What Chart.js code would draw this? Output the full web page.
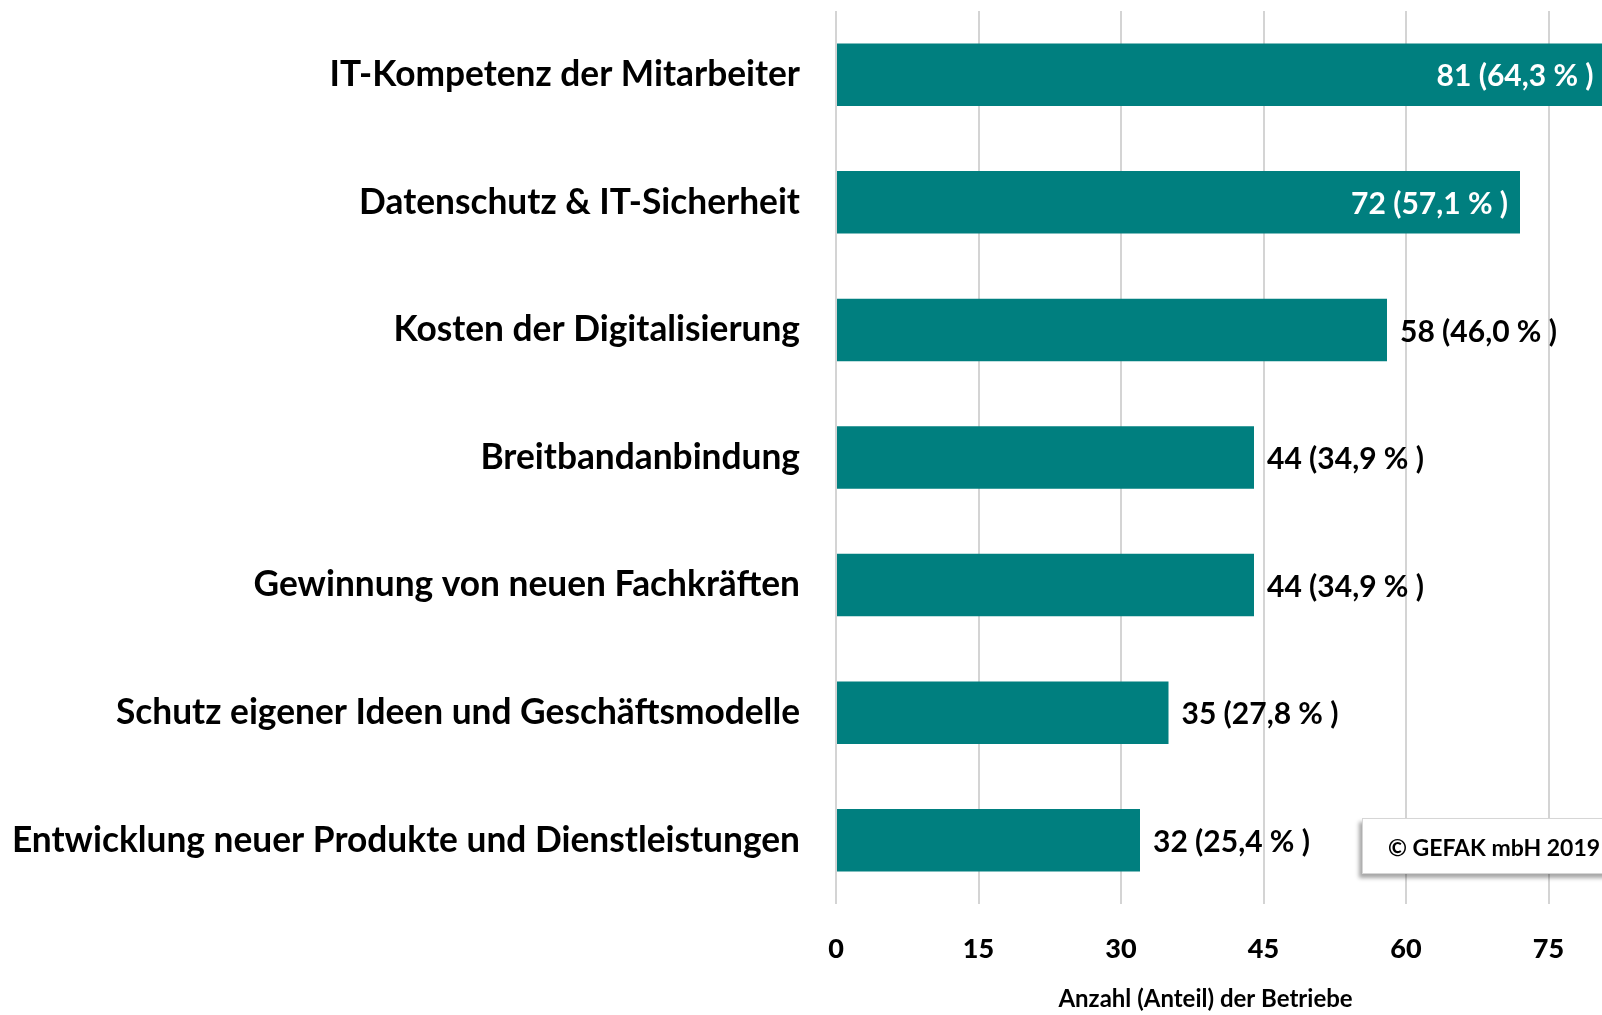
<!DOCTYPE html>
<html>
<head>
<meta charset="utf-8">
<script src="https://cdn.jsdelivr.net/npm/chart.js@4.4.1/dist/chart.umd.min.js"></script>
<style>
  html, body { margin: 0; padding: 0; background: #fff; overflow: hidden; width: 1602px; height: 1015px; }
  #wrap { position: absolute; left: 0; top: 0; width: 1711px; height: 1015px; }
  #note {
    position: absolute; left: 1362px; top: 818px; width: 300px; height: 56px;
    background: #fff; border: 1px solid #d6d6d6;
    box-shadow: -3px 4px 4px rgba(0,0,0,0.35);
    font: bold 23px Lato, sans-serif; color: #000;
    line-height: 56px; padding-left: 25px; box-sizing: border-box;
  }
</style>
</head>
<body>
<div id="wrap"><canvas id="chart"></canvas></div>
<div id="note"></div>
<script>
// Daten aus der Grafik
const categories = [
  'IT-Kompetenz der Mitarbeiter',
  'Datenschutz & IT-Sicherheit',
  'Kosten der Digitalisierung',
  'Breitbandanbindung',
  'Gewinnung von neuen Fachkräften',
  'Schutz eigener Ideen und Geschäftsmodelle',
  'Entwicklung neuer Produkte und Dienstleistungen'
];
const counts = [81, 72, 58, 44, 44, 35, 32];
const shares = [64.3, 57.1, 46.0, 34.9, 34.9, 27.8, 25.4];
const xTicks = [0, 15, 30, 45, 60, 75, 90];
const axisTitle = 'Anzahl (Anteil) der Betriebe';
const sourceNote = '© GEFAK mbH 2019';

document.getElementById('note').textContent = sourceNote;

const teal = '#007F7F';
Chart.defaults.font.family = 'Lato, sans-serif';

// Werte-Beschriftung an den Balken
const valueLabels = {
  id: 'valueLabels',
  afterDatasetsDraw(chart) {
    const ctx = chart.ctx;
    const meta = chart.getDatasetMeta(0);
    ctx.save();
    ctx.font = 'bold 30px Lato, sans-serif';
    ctx.textBaseline = 'middle';
    meta.data.forEach((bar, i) => {
      const txt = counts[i] + ' (' + shares[i].toFixed(1).replace('.', ',') + ' % )';
      if (counts[i] > 65) {
        ctx.fillStyle = '#fff';
        ctx.textAlign = 'right';
        ctx.fillText(txt, bar.x - 12, bar.y + 2);
      } else {
        ctx.fillStyle = '#000';
        ctx.textAlign = 'left';
        ctx.fillText(txt, bar.x + 13, bar.y + 2);
      }
    });
    ctx.restore();
  }
};

// Achsentitel (im Original nicht mittig)
const xTitle = {
  id: 'xTitle',
  afterDraw(chart) {
    const ctx = chart.ctx;
    const x = chart.scales.x;
    ctx.save();
    ctx.font = 'bold 24px Lato, sans-serif';
    ctx.fillStyle = '#000';
    ctx.textAlign = 'center';
    ctx.textBaseline = 'middle';
    ctx.fillText(axisTitle, x.getPixelForValue(38.9), 999);
    ctx.restore();
  }
};

new Chart(document.getElementById('chart'), {
  type: 'bar',
  data: {
    labels: categories,
    datasets: [{
      data: counts,
      backgroundColor: teal,
      borderWidth: 0,
      categoryPercentage: 1,
      barPercentage: 0.49
    }]
  },
  options: {
    indexAxis: 'y',
    responsive: true,
    maintainAspectRatio: false,
    animation: false,
    layout: { padding: { top: 11, right: 20, bottom: 0, left: 0 } },
    plugins: { legend: { display: false }, tooltip: { enabled: false } },
    scales: {
      x: {
        min: 0,
        max: 90,
        afterBuildTicks: s => { s.ticks = xTicks.map(v => ({ value: v })); },
        afterFit: s => { s.height = 111; s.paddingLeft = 0; s.paddingRight = 0; },
        grid: { color: '#D4D4D4', lineWidth: 2, drawTicks: false },
        border: { display: false },
        ticks: {
          padding: 29,
          color: '#000',
          font: { size: 27, weight: 900 }
        }
      },
      y: {
        afterFit: s => { s.width = 836; s.paddingTop = 0; s.paddingBottom = 0; },
        grid: { display: false, drawTicks: false },
        border: { display: false },
        ticks: {
          padding: 36,
          color: '#000',
          font: { size: 35.3, weight: 'bold' }
        }
      }
    }
  },
  plugins: [valueLabels, xTitle]
});
</script>
</body>
</html>
